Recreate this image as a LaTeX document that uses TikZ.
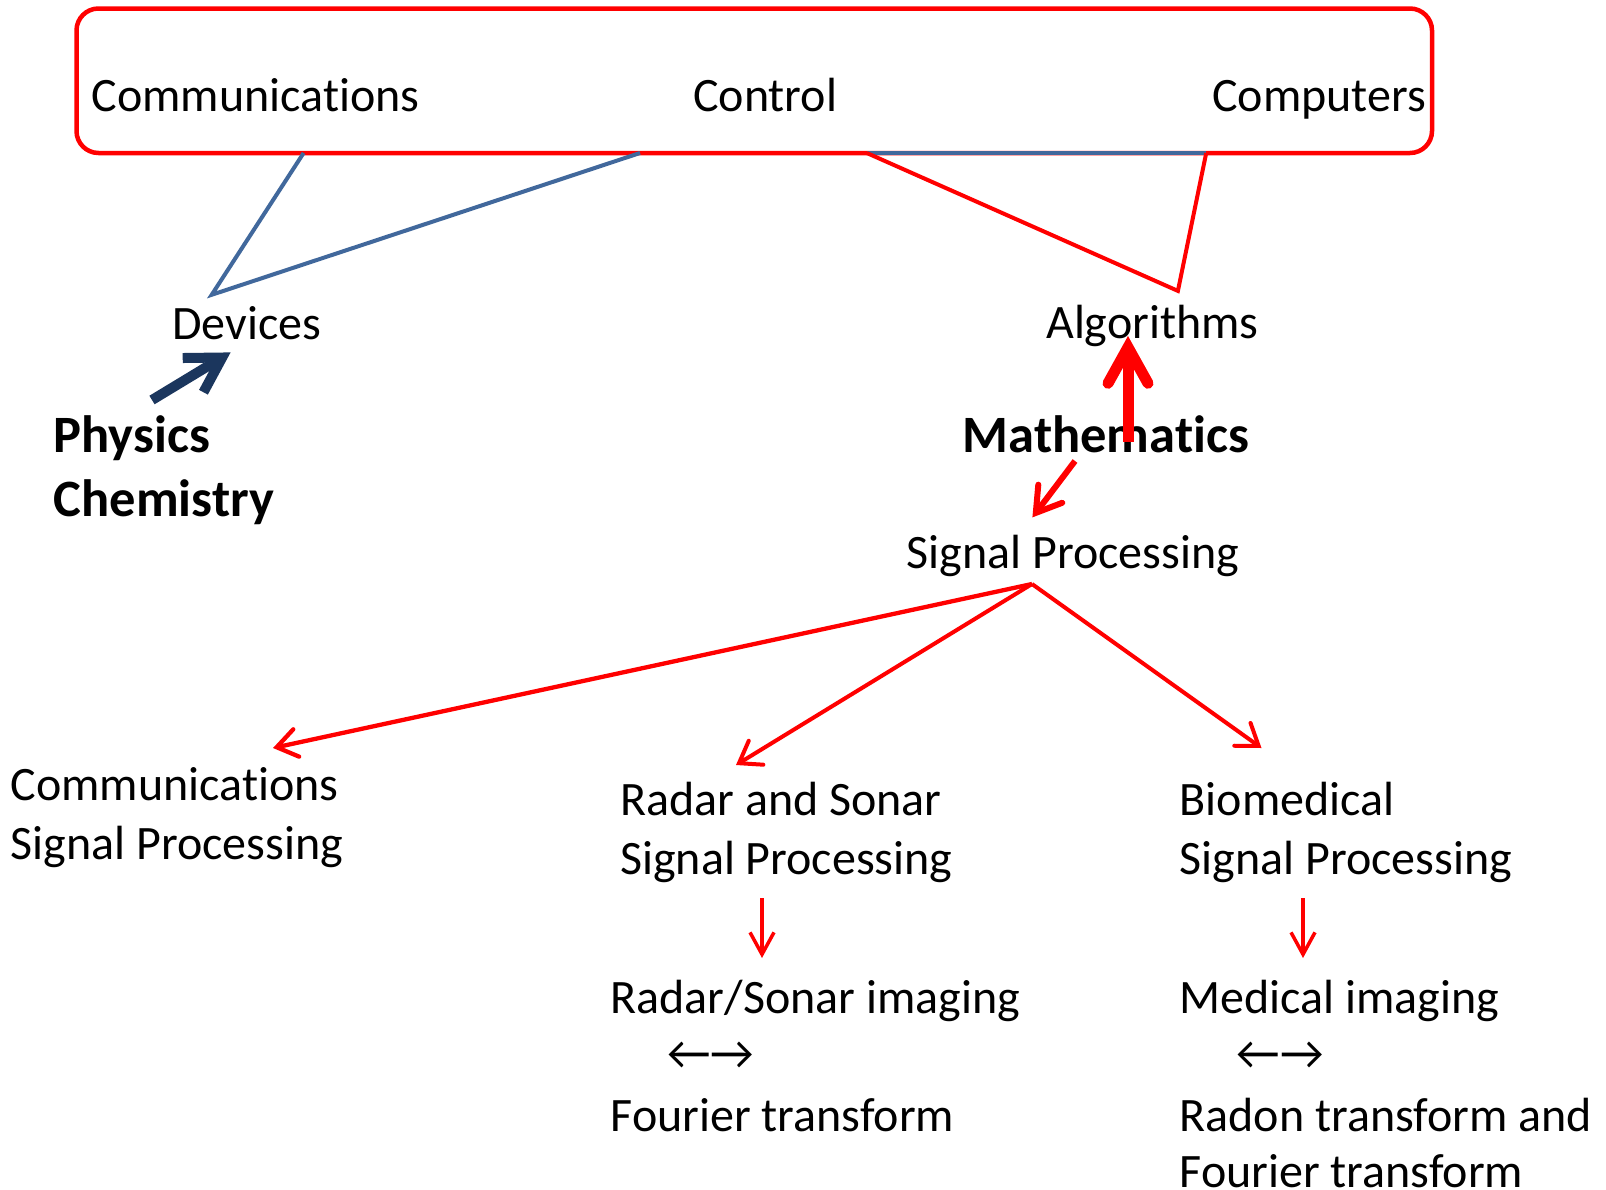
\documentclass[tikz,border=0pt]{standalone}
\usepackage{fontspec}
\setmainfont{Carlito}[Ligatures=NoCommon]
\usetikzlibrary{arrows.meta}
\definecolor{pptred}{HTML}{FF0000}
\definecolor{linkblue}{HTML}{41689C}
\definecolor{navyarrow}{HTML}{1B365D}
\begin{document}
\begin{tikzpicture}[x=1pt,y=-1pt,
  lbl/.style={anchor=base west, inner sep=0pt, font=\fontsize{48}{58}\selectfont},
  blbl/.style={anchor=base west, inner sep=0pt, font=\fontsize{52.5}{62}\selectfont\bfseries},
  fieldbox/.style={draw=pptred, line width=4.5pt, rounded corners=22pt, inner sep=0pt, outer sep=0pt, anchor=north west},
  bluelink/.style={draw=linkblue, line width=4pt, line join=miter},
  redlink/.style={draw=pptred, line width=4pt, line join=miter},
  spbranch/.style={draw=pptred, line width=4.3pt, -{Straight Barb[length=20pt,width=28pt,line cap=round]}},
  downarr/.style={draw=pptred, line width=3.5pt, -{Straight Barb[length=22pt,width=24pt]}}
]
\useasboundingbox (0,0) rectangle (1606,1189);
\clip (0,0) rectangle (1606,1189);
\fill[white] (0,0) rectangle (1606,1189);

% top field box
\node[fieldbox, minimum width=1355.5pt, minimum height=144.5pt] (field) at (76.5,8.5) {};
\node[lbl] (comm) at (91.5,111) {Communications};
\node[lbl] (ctrl) at (693,111) {Control};
\node[lbl] (comp) at (1212,111) {Computers};

% link points on the box bottom
\coordinate (dvA) at (303.6,153);
\coordinate (dvB) at (640,153);
\coordinate (dvV) at (211.7,294.8);
\coordinate (alA) at (866.8,153);
\coordinate (alB) at (1206.2,153);
\coordinate (alV) at (1177.9,290.9);

\draw[bluelink] (dvA) -- (dvV) -- (dvB);
\draw[bluelink] (alA) -- (alB);
\draw[redlink] (alA) -- (alV) -- (alB);

% middle labels
\node[lbl] (dev) at (172,339.7) {Devices};
\node[lbl] (alg) at (1046,338.7) {Algorithms};
\node[blbl] (phy) at (53.5,452.5) {Physics};
\node[blbl] (chem) at (53.5,516.5) {Chemistry};
\node[blbl] (math) at (962.5,452.5) {Mathematics};
\node[lbl] (sp) at (906.5,568.3) {Signal Processing};

% physics -> devices
\coordinate (phyT) at (152,400);
\coordinate (devH) at (230.6,352.4);
\draw[navyarrow, line width=10pt, -{Straight Barb[length=34pt,width=40pt]}] (phyT) -- (devH);

% mathematics -> algorithms
\coordinate (mathT) at (1128,442);
\coordinate (algH) at (1128,336);
\draw[pptred, line width=11pt, -{Straight Barb[length=36pt,width=40pt,line cap=round]}] (mathT) -- (algH);

% mathematics -> signal processing
\coordinate (mathS) at (1075,461);
\coordinate (spH) at (1032.4,517.4);
\draw[pptred, line width=6pt, -{Straight Barb[length=24pt,width=30pt,line cap=round]}] (mathS) -- (spH);

% signal processing branches
\coordinate (spV) at (1032,584);
\coordinate (cspH) at (273,748);
\coordinate (rspH) at (736,765);
\coordinate (bspH) at (1261.5,748);
\draw[spbranch] (spV) -- (cspH);
\draw[spbranch, line width=4pt] (spV) -- (rspH);
\draw[spbranch, line width=4pt] (spV) -- (bspH);

\node[lbl] (csp1) at (10.5,800.5) {Communications};
\node[lbl] (csp2) at (10.5,859) {Signal Processing};
\node[lbl] (rsp1) at (620,815) {Radar and Sonar};
\node[lbl] (rsp2) at (620,874) {Signal Processing};
\node[lbl] (bsp1) at (1179.5,815) {Biomedical};
\node[lbl] (bsp2) at (1179.5,874) {Signal Processing};

% down arrows
\coordinate (rdT) at (762,898);
\coordinate (rdH) at (762,958);
\coordinate (bdT) at (1303,898);
\coordinate (bdH) at (1303,958);
\draw[downarr] (rdT) -- (rdH);
\draw[downarr] (bdT) -- (bdH);

% bottom texts
\node[lbl] (rsi) at (610.5,1013.5) {Radar/Sonar imaging};
\node[lbl] (rarr) at (667,1069) {←→};
\node[lbl] (rft) at (610.5,1131.5) {Fourier transform};
\node[lbl] (mi) at (1179.5,1013.5) {Medical imaging};
\node[lbl] (marr) at (1236.5,1069) {←→};
\node[lbl] (rad) at (1179.5,1131.5) {Radon transform and};
\node[lbl] (mft) at (1179.5,1187) {Fourier transform};
\end{tikzpicture}
\end{document}
